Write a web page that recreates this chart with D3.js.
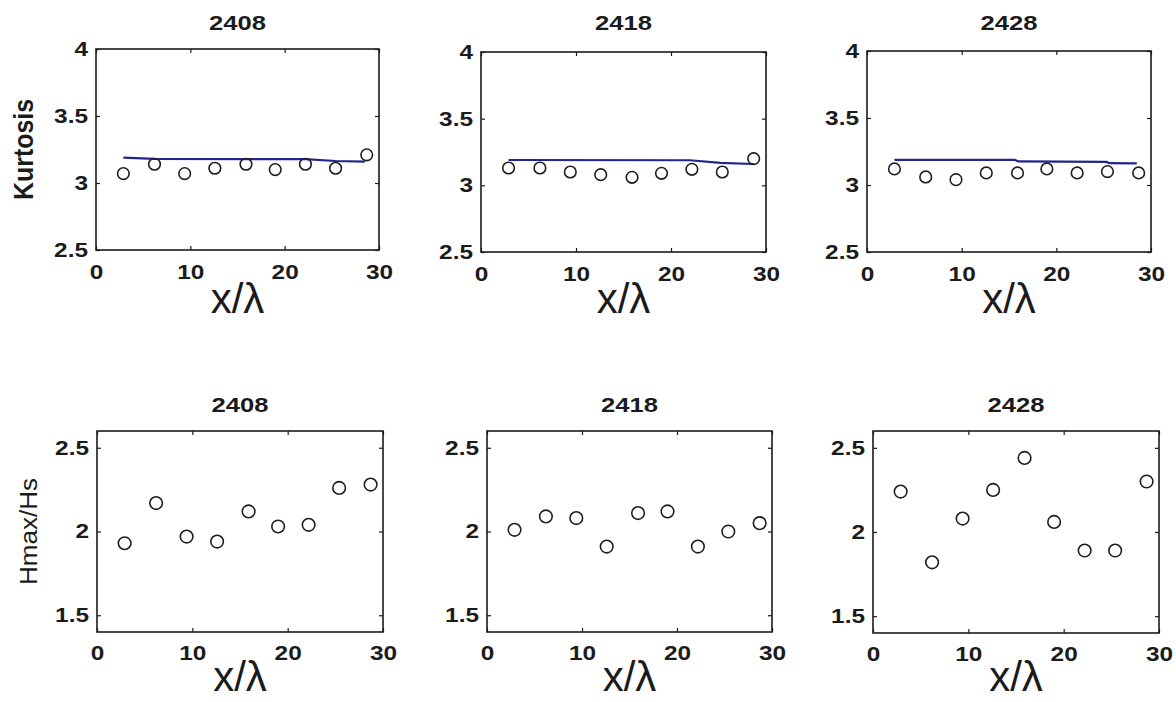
<!DOCTYPE html>
<html>
<head>
<meta charset="utf-8">
<script src="https://cdn.jsdelivr.net/npm/d3@7"></script>
<style>
  body { margin: 0; background: #fff; }
  svg { display: block; font-family: Arial, "Liberation Sans", sans-serif; }
</style>
</head>
<body>
<svg id="fig" width="1176" height="702"></svg>
<script>
// ---- data ----
const runs = ["2408", "2418", "2428"];
const xPositions = [2.9, 6.2, 9.4, 12.6, 15.9, 19.0, 22.2, 25.4, 28.7];

// measured kurtosis at each gauge
const kurtosis2408 = [3.07, 3.14, 3.07, 3.11, 3.14, 3.10, 3.14, 3.11, 3.21];
const kurtosis2418 = [3.13, 3.13, 3.10, 3.08, 3.06, 3.09, 3.12, 3.10, 3.20];
const kurtosis2428 = [3.12, 3.06, 3.04, 3.09, 3.09, 3.12, 3.09, 3.10, 3.09];

// predicted kurtosis along the flume
const theoryX2408 = [2.9, 6.2, 22.2, 25.4, 28.5];
const theoryY2408 = [3.19, 3.18, 3.178, 3.164, 3.16];
const theoryX2418 = [2.9, 22.0, 25.2, 28.7];
const theoryY2418 = [3.19, 3.188, 3.168, 3.16];
const theoryX2428 = [2.9, 15.6, 16.0, 25.3, 25.6, 28.5];
const theoryY2428 = [3.188, 3.188, 3.176, 3.172, 3.163, 3.162];

// maximum wave height over significant wave height
const hmaxHs2408 = [1.93, 2.17, 1.97, 1.94, 2.12, 2.03, 2.04, 2.26, 2.28];
const hmaxHs2418 = [2.01, 2.09, 2.08, 1.91, 2.11, 2.12, 1.91, 2.00, 2.05];
const hmaxHs2428 = [2.24, 1.82, 2.08, 2.25, 2.44, 2.06, 1.89, 1.89, 2.30];

const xTicks = [0, 10, 20, 30];
const kurtosisTicks = [2.5, 3, 3.5, 4];
const hmaxTicks = [1.5, 2, 2.5];

// ---- layout ----
const topBoxes = [
  { l: 96, r: 379, t: 49, b: 250 },
  { l: 481, r: 766, t: 52, b: 252 },
  { l: 867, r: 1151, t: 51, b: 252 }
];
const bottomBoxes = [
  { l: 97, r: 383, t: 431, b: 632 },
  { l: 487, r: 772, t: 431, b: 632 },
  { l: 873, r: 1159, t: 431, b: 633 }
];

const svg = d3.select("#fig");
const ink = "#1b1b1b";
const tickFont = 20;
const stretch = 1.22;

function widen(sel, k) {
  sel.each(function () {
    const w = this.getComputedTextLength();
    d3.select(this).attr("textLength", w * k).attr("lengthAdjust", "spacingAndGlyphs");
  });
}

function drawPanel(box, cfg) {
  const g = svg.append("g");
  const x = d3.scaleLinear().domain([0, 30]).range([box.l, box.r]);
  const y = d3.scaleLinear().domain(cfg.yDomain).range([box.b, box.t]);

  // bottom axis with labels, ticks pointing inward
  const ax = g.append("g").attr("transform", `translate(0,${box.b})`)
    .call(d3.axisBottom(x).tickValues(xTicks).tickFormat(d3.format("d"))
      .tickSizeInner(-4).tickSizeOuter(0).tickPadding(cfg.xPad));
  // left axis with labels
  const ay = g.append("g").attr("transform", `translate(${box.l},0)`)
    .call(d3.axisLeft(y).tickValues(cfg.yTicks).tickFormat(d => String(d))
      .tickSizeInner(-4).tickSizeOuter(0).tickPadding(8));
  // top and right axes: tick marks only
  g.append("g").attr("transform", `translate(0,${box.t})`)
    .call(d3.axisTop(x).tickValues(xTicks).tickFormat("").tickSizeInner(-4).tickSizeOuter(0));
  g.append("g").attr("transform", `translate(${box.r},0)`)
    .call(d3.axisRight(y).tickValues(cfg.yTicks).tickFormat("").tickSizeInner(-4).tickSizeOuter(0));

  g.selectAll(".domain").remove();
  g.selectAll(".tick line").attr("stroke", ink).attr("stroke-width", 1.2);
  [ax, ay].forEach(a => {
    a.selectAll("text")
      .attr("font-size", tickFont).attr("font-weight", "bold")
      .attr("fill", ink).attr("font-family", "Arial, 'Liberation Sans', sans-serif");
    widen(a.selectAll("text"), stretch);
  });

  // frame
  g.append("rect")
    .attr("x", box.l).attr("y", box.t)
    .attr("width", box.r - box.l).attr("height", box.b - box.t)
    .attr("fill", "none").attr("stroke", ink).attr("stroke-width", 1.6);

  // predicted line
  if (cfg.lineX) {
    const pts = cfg.lineX.map((v, i) => [v, cfg.lineY[i]]);
    g.append("path")
      .datum(pts)
      .attr("fill", "none")
      .attr("stroke", "#23238c")
      .attr("stroke-width", 2.2)
      .attr("d", d3.line().x(d => x(d[0])).y(d => y(d[1])));
  }

  // measured points
  g.selectAll("circle.pt")
    .data(cfg.values.map((v, i) => [xPositions[i], v]))
    .join("circle")
    .attr("class", "pt")
    .attr("cx", d => x(d[0])).attr("cy", d => y(d[1]))
    .attr("r", cfg.r)
    .attr("fill", "none").attr("stroke", "#1e1e1e").attr("stroke-width", 1.6);

  // title
  const t = g.append("text")
    .attr("x", (box.l + box.r) / 2).attr("y", cfg.titleY)
    .attr("text-anchor", "middle")
    .attr("font-size", 21).attr("font-weight", "bold").attr("fill", ink)
    .text(cfg.title);
  widen(t, 1.22);

  // x label
  g.append("text")
    .attr("x", (box.l + box.r) / 2).attr("y", cfg.xLabelY)
    .attr("text-anchor", "middle")
    .attr("font-size", 42).attr("fill", ink)
    .text("x/λ");

  // y label (first column only)
  if (cfg.yLabel) {
    g.append("text")
      .attr("transform", `translate(${cfg.yLabelX},${(box.t + box.b) / 2}) scale(1.15,1) rotate(-90)`)
      .attr("text-anchor", "middle")
      .attr("font-size", cfg.yLabelSize)
      .attr("font-weight", cfg.yLabelWeight)
      .attr("fill", ink)
      .attr("textLength", cfg.yLabelLength)
      .attr("lengthAdjust", "spacingAndGlyphs")
      .text(cfg.yLabel);
  }
}

const kurtosisSets = [kurtosis2408, kurtosis2418, kurtosis2428];
const theoryXs = [theoryX2408, theoryX2418, theoryX2428];
const theoryYs = [theoryY2408, theoryY2418, theoryY2428];
const hmaxSets = [hmaxHs2408, hmaxHs2418, hmaxHs2428];

runs.forEach((run, i) => {
  drawPanel(topBoxes[i], {
    yDomain: [2.5, 4], yTicks: kurtosisTicks,
    values: kurtosisSets[i], lineX: theoryXs[i], lineY: theoryYs[i],
    r: 5.8, title: run, titleY: 30, xPad: 15, xLabelY: 313,
    yLabel: i === 0 ? "Kurtosis" : null, yLabelX: 33, yLabelSize: 24,
    yLabelWeight: "bold", yLabelLength: 101
  });
  drawPanel(bottomBoxes[i], {
    yDomain: [1.4, 2.6], yTicks: hmaxTicks,
    values: hmaxSets[i], r: 6.3,
    title: run, titleY: 412, xPad: 14, xLabelY: 691,
    yLabel: i === 0 ? "Hmax/Hs" : null, yLabelX: 37, yLabelSize: 20,
    yLabelWeight: "normal", yLabelLength: 107
  });
});
</script>
</body>
</html>
